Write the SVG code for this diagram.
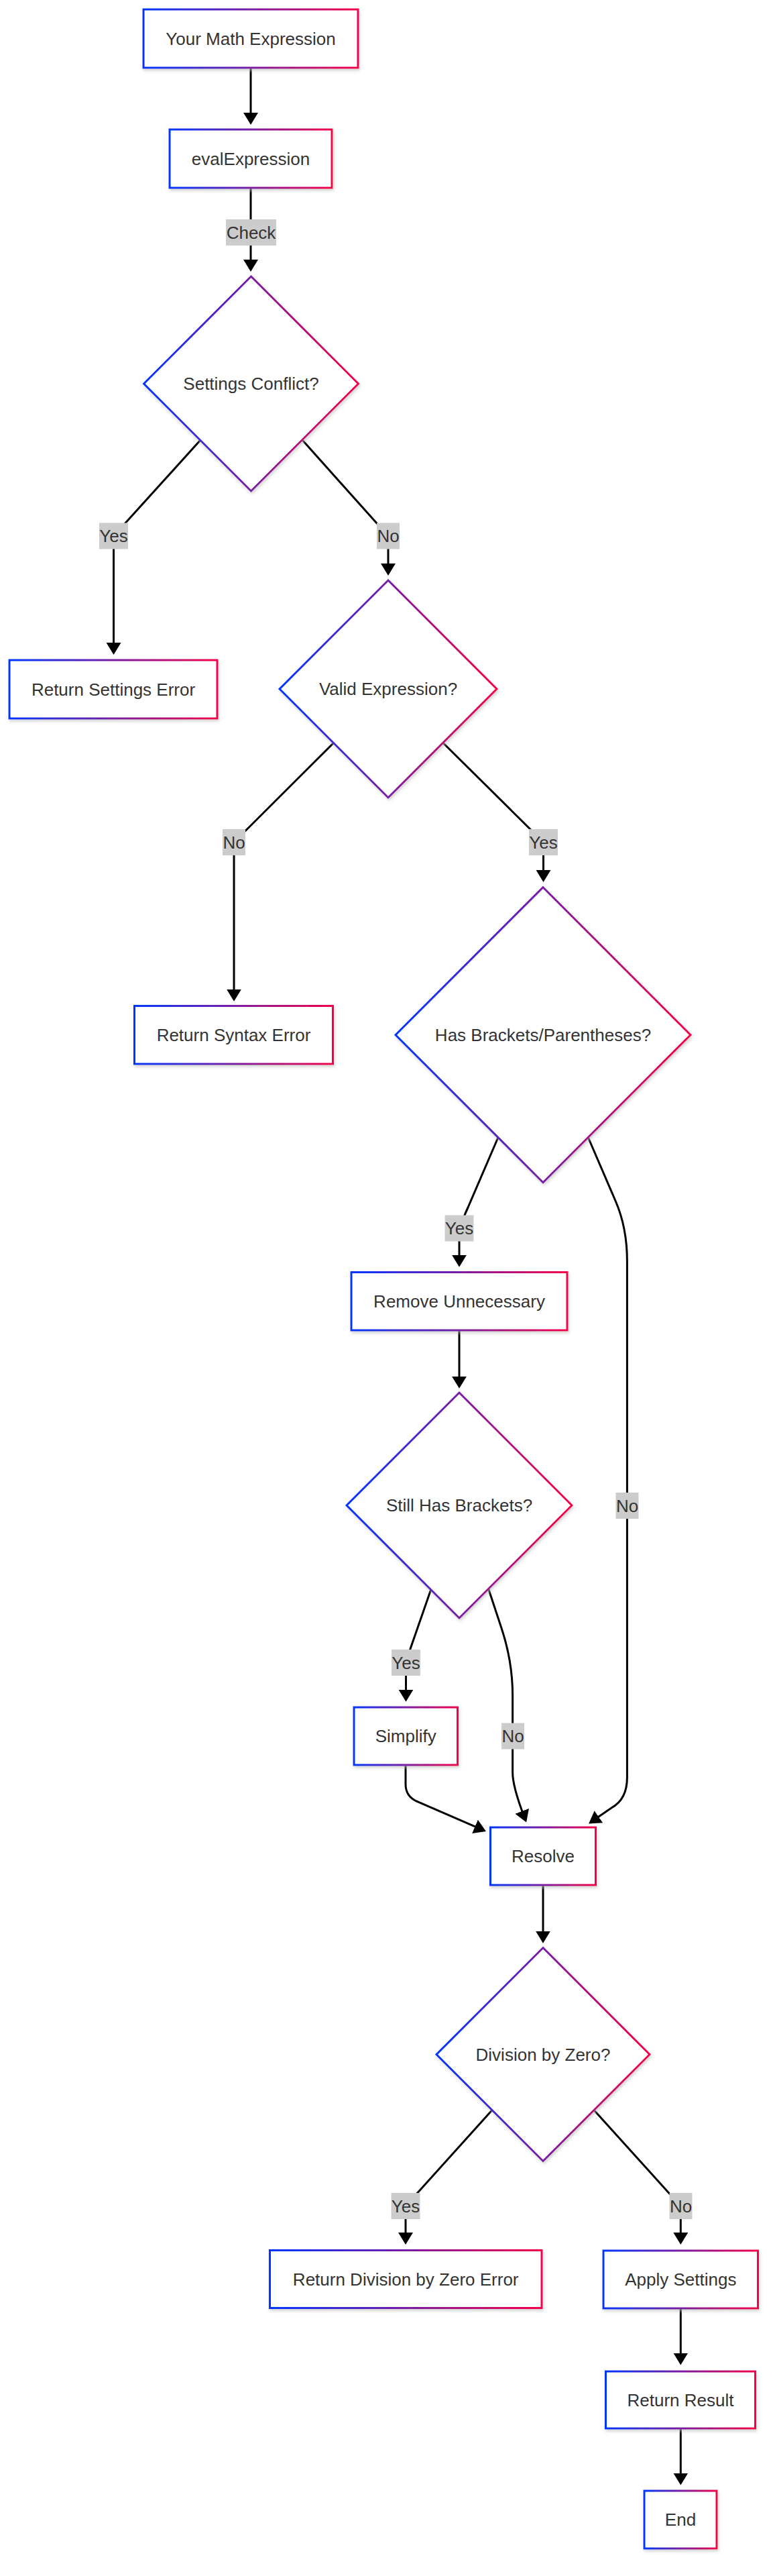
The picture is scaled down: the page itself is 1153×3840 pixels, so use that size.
<svg xmlns="http://www.w3.org/2000/svg" width="1153" height="3840" viewBox="0 0 1153 3840">
<defs>
<linearGradient id="grad" x1="0" y1="0" x2="1" y2="0">
<stop offset="0" stop-color="#0036ff"/>
<stop offset="1" stop-color="#f5004a"/>
</linearGradient>
<filter id="sh" x="-10%" y="-10%" width="120%" height="130%">
<feDropShadow dx="1.5" dy="3" stdDeviation="2" flood-color="#b9b9b9" flood-opacity="0.6"/>
</filter>
<marker id="arr" viewBox="0 0 18 22" markerWidth="18" markerHeight="22" refX="9" refY="11" markerUnits="userSpaceOnUse" orient="auto">
<path d="M0,0 L18,11 L0,22 z" fill="#000"/>
</marker>
<style>
.node rect, .node polygon { fill: #ffffff; stroke: url(#grad); stroke-width: 3; filter: url(#sh); }
.node text { font-family: "Liberation Sans", Arial, sans-serif; font-size: 26px; fill: #333333; text-anchor: middle; }
.edge { fill: none; stroke: #000; stroke-width: 3; marker-end: url(#arr); }
.lbl rect { fill: #cccccc; }
.lbl text { font-family: "Liberation Sans", Arial, sans-serif; font-size: 26px; fill: #333333; text-anchor: middle; }
</style>
</defs>
<rect x="0" y="0" width="1153" height="3840" fill="#ffffff"/>
<g id="connectors">
<path class="edge" d="M374,101 L374,177"/>
<path class="edge" d="M374,280 L374,396"/>
<path class="edge" d="M298.5,656.5 L169.5,799 L169.5,967"/>
<path class="edge" d="M451.5,656.5 L579,799 L579,849"/>
<path class="edge" d="M497.5,1107.5 L349,1255.5 L349,1483.7"/>
<path class="edge" d="M661,1107.5 L810.5,1255.5 L810.5,1306"/>
<path class="edge" d="M742.8,1696 L698,1800 Q685,1828 685,1845 L685,1879.8"/>
<path class="edge" d="M685,1983 L685,2060.8"/>
<path class="edge" d="M877.5,1696 L918,1790 Q935.4,1830 935.4,1880 L935.4,2650 Q935.4,2682 912,2695 L885.5,2713.3"/>
<path class="edge" d="M642.6,2370 L612,2458 Q605.5,2476 605.5,2495 L605.5,2527.7"/>
<path class="edge" d="M728.8,2369 L748,2427 Q764.6,2477 764.6,2527 L764.6,2642 Q764.6,2663 781.9,2708.2"/>
<path class="edge" d="M605,2631 L605,2660 Q605,2677 621,2685 L716.7,2726.4"/>
<path class="edge" d="M810,2810 L810,2887.7"/>
<path class="edge" d="M734,3145.6 L605,3288.5 L605,3337"/>
<path class="edge" d="M886,3145.6 L1015.3,3288.5 L1015.3,3337"/>
<path class="edge" d="M1015.3,3440.5 L1015.3,3516.5"/>
<path class="edge" d="M1015.3,3619.6 L1015.3,3695.6"/>
<g class="lbl"><rect x="337" y="327" width="75" height="39"/><text x="374.5" y="355.5">Check</text></g>
<g class="lbl"><rect x="148" y="779.5" width="43" height="39"/><text x="169.5" y="808">Yes</text></g>
<g class="lbl"><rect x="562" y="779.5" width="34" height="39"/><text x="579" y="808">No</text></g>
<g class="lbl"><rect x="332" y="1236" width="34" height="39"/><text x="349" y="1264.5">No</text></g>
<g class="lbl"><rect x="789" y="1236" width="43" height="39"/><text x="810.5" y="1264.5">Yes</text></g>
<g class="lbl"><rect x="663.5" y="1811.5" width="43" height="39"/><text x="685" y="1840">Yes</text></g>
<g class="lbl"><rect x="918.5" y="2225" width="34" height="39"/><text x="935.5" y="2253.5">No</text></g>
<g class="lbl"><rect x="584" y="2459" width="43" height="39"/><text x="605.5" y="2487.5">Yes</text></g>
<g class="lbl"><rect x="748" y="2568.5" width="34" height="39"/><text x="765" y="2597">No</text></g>
<g class="lbl"><rect x="583.5" y="3269" width="43" height="39"/><text x="605" y="3297.5">Yes</text></g>
<g class="lbl"><rect x="998.5" y="3269" width="34" height="39"/><text x="1015.5" y="3297.5">No</text></g>
</g>
<g id="n1" class="node"><rect x="214" y="14" width="320" height="87"/><text x="374" y="66.5">Your Math Expression</text></g>
<g id="n2" class="node"><rect x="253" y="193" width="242" height="87"/><text x="374" y="245.5">evalExpression</text></g>
<g id="d1" class="node"><polygon points="374.5,412 534.5,572 374.5,732 214.5,572"/><text x="374.5" y="581">Settings Conflict?</text></g>
<g id="n3" class="node"><rect x="14" y="984" width="310" height="87"/><text x="169" y="1036.5">Return Settings Error</text></g>
<g id="d2" class="node"><polygon points="579,865 741,1027 579,1189 417,1027"/><text x="579" y="1036">Valid Expression?</text></g>
<g id="n4" class="node"><rect x="200.5" y="1499.5" width="296" height="86.5"/><text x="348.5" y="1551.7">Return Syntax Error</text></g>
<g id="d3" class="node"><polygon points="810,1322.7 1030,1542.7 810,1762.7 590,1542.7"/><text x="810" y="1551.7">Has Brackets/Parentheses?</text></g>
<g id="n5" class="node"><rect x="524" y="1896.5" width="322" height="86.5"/><text x="685" y="1948.7">Remove Unnecessary</text></g>
<g id="d4" class="node"><polygon points="685,2076 853,2244 685,2412 517,2244"/><text x="685" y="2253">Still Has Brackets?</text></g>
<g id="n6" class="node"><rect x="528" y="2545" width="154.5" height="86"/><text x="605.2" y="2597">Simplify</text></g>
<g id="n7" class="node"><rect x="731.5" y="2724" width="157" height="86"/><text x="810" y="2776">Resolve</text></g>
<g id="d5" class="node"><polygon points="810,2903.5 969,3062.5 810,3221.5 651,3062.5"/><text x="810" y="3071.5">Division by Zero?</text></g>
<g id="n8" class="node"><rect x="402.5" y="3354.5" width="405.5" height="86"/><text x="605.2" y="3406.5">Return Division by Zero Error</text></g>
<g id="n9" class="node"><rect x="900" y="3355" width="230.5" height="86"/><text x="1015.3" y="3407">Apply Settings</text></g>
<g id="n10" class="node"><rect x="903.5" y="3535" width="223" height="85"/><text x="1015" y="3586.5">Return Result</text></g>
<g id="n11" class="node"><rect x="961" y="3713" width="108" height="86"/><text x="1015" y="3765">End</text></g>
</svg>
